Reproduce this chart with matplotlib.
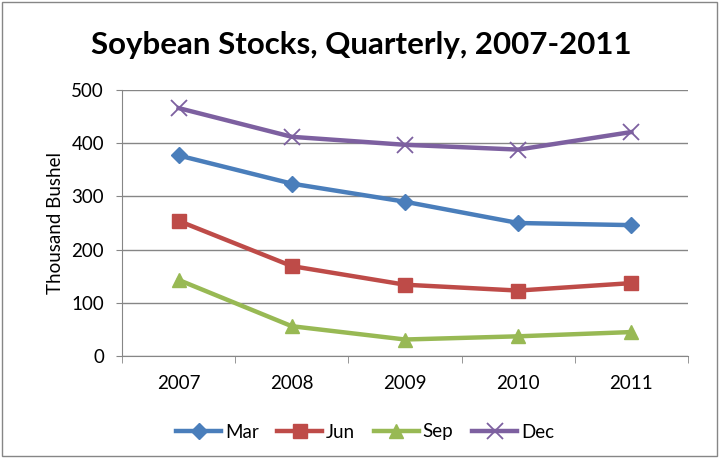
import numpy as np
import matplotlib.pyplot as plt
from matplotlib.patches import Rectangle

plt.rcParams['font.family'] = ['Lato', 'DejaVu Sans']

""" data read off the chart """

years = ['2007', '2008', '2009', '2010', '2011']
mar = [377, 324, 290, 250, 246]
jun = [254, 169, 134, 123, 137]
sep = [143, 56, 31, 37, 45]
dec = [466, 412, 397, 388, 421]

series = [('Mar', mar, '#4A7EBB', 'D', 8),
          ('Jun', jun, '#BE4B48', 's', 10.5),
          ('Sep', sep, '#98B954', '^', 10.5),
          ('Dec', dec, '#7D60A0', 'x', 11)]

fig = plt.figure(figsize=(7.19, 4.58), dpi=100)
ax = fig.add_axes([122/719, 1-356/458, (688-122)/719, (356-90)/458])

x = np.arange(len(years))
for name, vals, col, mk, ms in series:
    if mk == 'x':
        ax.plot(x, vals, color=col, lw=3.2, marker=mk, ms=ms, mew=1.3, label=name)
    else:
        ax.plot(x, vals, color=col, lw=3.2, marker=mk, ms=ms, label=name)

ax.set_xlim(-0.5, len(years)-0.5)
ax.set_ylim(0, 500)
ax.set_yticks(range(0, 501, 100))
ax.set_xticks(x)
ax.set_xticklabels(years)
ax.set_xticks(np.arange(-0.5, len(years), 1), minor=True)
ax.tick_params(axis='x', which='major', length=0, pad=14, labelsize=13.5)
ax.tick_params(axis='x', which='minor', length=5, color='#868686', direction='out')
ax.tick_params(axis='y', length=4, color='#868686', labelsize=13.5, pad=9)
ax.grid(axis='y', color='#868686', lw=1)
ax.set_axisbelow(True)
for s in ['top', 'right']:
    ax.spines[s].set_visible(False)
for s in ['left', 'bottom']:
    ax.spines[s].set_color('#868686')
ax.set_ylabel('Thousand Bushel', fontsize=13.5, labelpad=5)

fig.text(361/719, 1-45/458, 'Soybean Stocks, Quarterly, 2007-2011',
         ha='center', va='center', fontsize=22.5, fontweight='bold')

fig.legend(*ax.get_legend_handles_labels(), loc='center',
           bbox_to_anchor=(365/719, 1-432/458), ncol=4, frameon=False,
           fontsize=13.5, handlelength=2.4, columnspacing=1.0, handletextpad=0.2)

fig.patches.append(Rectangle((2/719, 2/458), 715/719, 454/458, transform=fig.transFigure,
                             fill=False, edgecolor='#868686', lw=1))

fig.savefig('out.png', dpi=100)
